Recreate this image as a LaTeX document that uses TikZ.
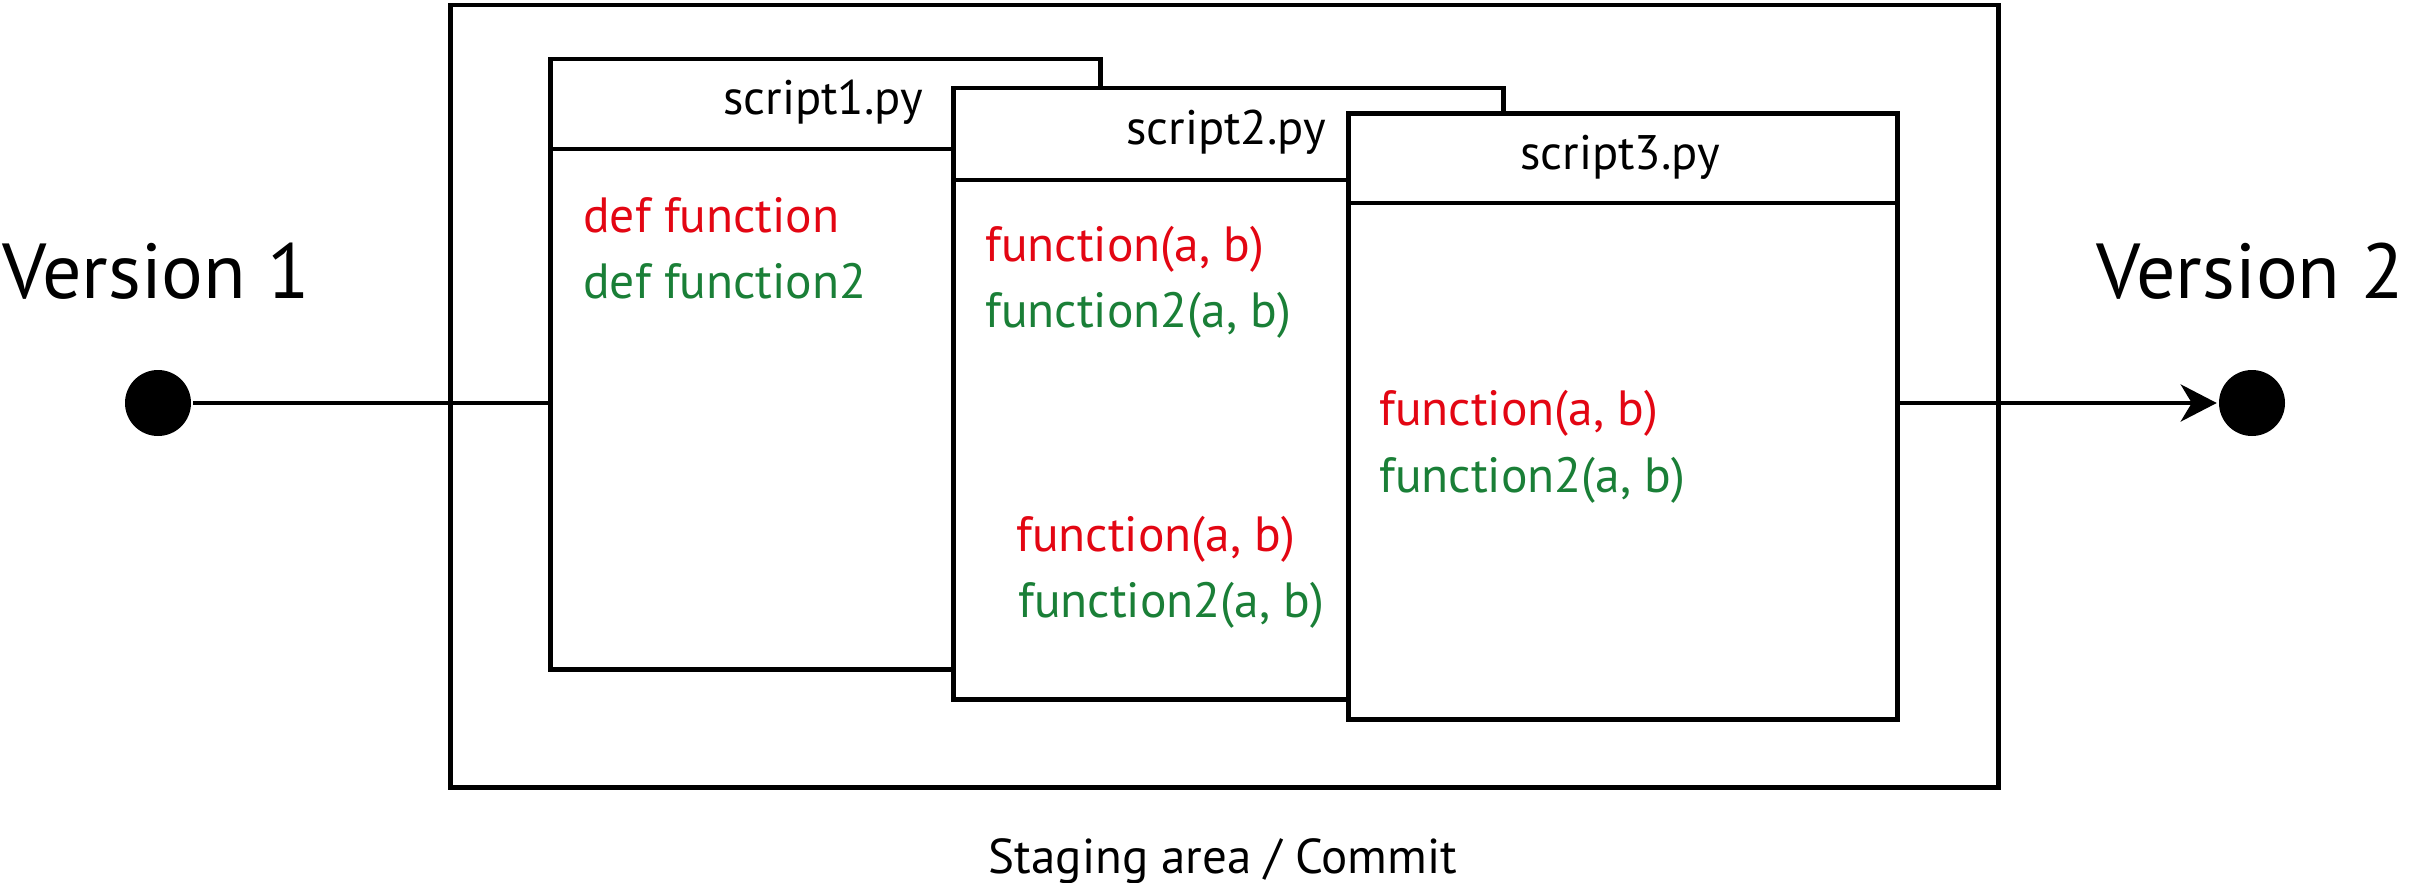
\documentclass[tikz,border=0pt]{standalone}
\usepackage{fontspec}
\setmainfont{PT Sans}
\usetikzlibrary{arrows.meta}
\definecolor{codered}{RGB}{227,6,19}
\definecolor{codegreen}{RGB}{26,127,55}
\begin{document}
\begin{tikzpicture}[x=1pt,y=-1pt,line width=4.5pt,
  filebox/.style={draw,fill=white,rectangle,inner sep=0pt,anchor=north west},
  stagebox/.style={draw,rectangle,inner sep=0pt,anchor=north west},
  dot/.style={circle,fill=black,minimum size=66pt,inner sep=0pt},
  codered/.style={inner sep=0pt,anchor=base west,text=codered,font=\fontsize{49.5}{58}\selectfont},
  codegreen/.style={inner sep=0pt,anchor=base west,text=codegreen,font=\fontsize{49.5}{58}\selectfont},
  header/.style={inner sep=0pt,anchor=base,font=\fontsize{48.5}{56}\selectfont},
  version/.style={inner sep=0pt,anchor=base west,font=\fontsize{78}{90}\selectfont},
  caption/.style={inner sep=0pt,anchor=base,font=\fontsize{49}{56}\selectfont}]
\useasboundingbox (0,0) rectangle (2413,883);
% staging area
\node[stagebox,minimum width=1548pt,minimum height=782pt] (stage) at (448,3) {};
\node[caption] (cap) at (1223,873) {Staging area / Commit};
% version dots and labels
\node[dot] (d1) at (158,403) {};
\node[dot] (d2) at (2252,403) {};
\node[version] (v1) at (0,298) {Version 1};
\node[version] (v2) at (2094,298) {Version 2};
% script1
\node[filebox,minimum width=550pt,minimum height=610pt] (s1) at (548,57) {};
\draw (s1.north west) ++(0,92) -- ++(550,0);
\node[header] (h1) at (823,114) {script1.py};
\node[codered] (t1a) at (581,232) {def function};
\node[codegreen] (t1b) at (581,298) {def function2};
% script2
\node[filebox,minimum width=550pt,minimum height=611pt] (s2) at (951,86) {};
\draw (s2.north west) ++(0,94) -- ++(550,0);
\node[header] (h2) at (1226,144) {script2.py};
\node[codered] (t2a) at (983,261) {function(a, b)};
\node[codegreen] (t2b) at (983,327) {function2(a, b)};
\node[codered] (t2c) at (1014,551) {function(a, b)};
\node[codegreen] (t2d) at (1016,617) {function2(a, b)};
% script3
\node[filebox,minimum width=549pt,minimum height=606pt] (s3) at (1346,111) {};
\draw (s3.north west) ++(0,92) -- ++(549,0);
\node[header] (h3) at (1620,169) {script3.py};
\node[codered] (t3a) at (1377,425) {function(a, b)};
\node[codegreen] (t3b) at (1377,492) {function2(a, b)};
% connectors
\draw (d1) -- (s1.west |- d1);
\draw[-{Stealth[length=36pt,width=37pt,inset=11pt]}] (s3.east |- d2) -- (d2);
\end{tikzpicture}
\end{document}
